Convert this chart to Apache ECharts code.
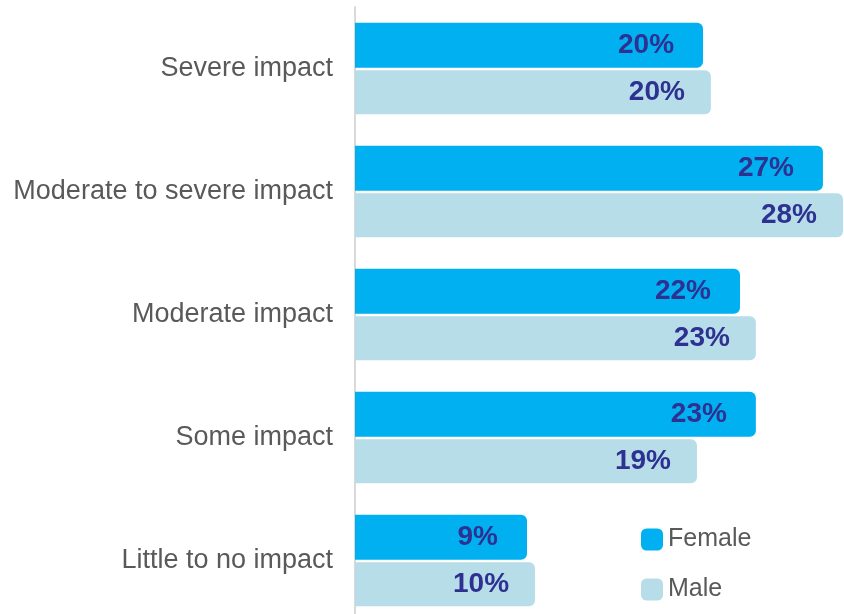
<!DOCTYPE html>
<html><head><meta charset="utf-8">
<script src="https://cdn.jsdelivr.net/npm/echarts@6/dist/echarts.min.js"></script>
<style>html,body{margin:0;padding:0;background:#fff;overflow:hidden}#c{width:844px;height:622px}</style>
</head><body><div id="c"></div>
<script>
const categories = ["Severe impact","Moderate to severe impact","Moderate impact","Some impact","Little to no impact"];
const femaleValues = [19.97, 26.85, 22.09, 23.0, 9.87];
const maleValues = [20.42, 28.0, 23.0, 19.62, 10.33];
const femaleLabels = ["20%","27%","22%","23%","9%"];
const maleLabels = ["20%","28%","23%","19%","10%"];

const chart = echarts.init(document.getElementById('c'));
const labelFont = {fontFamily:'Liberation Sans, Arial, sans-serif', fontSize:28, fontWeight:'bold', color:'#2E3192'};
chart.setOption({
  animation:false,
  grid:{left:355, right:1, top:7, bottom:0, containLabel:false},
  legend:{
    orient:'vertical', left:641, top:527, padding:0, itemWidth:22, itemHeight:22, itemGap:25,
    icon:'roundRect',
    textStyle:{fontFamily:'Liberation Sans, Arial, sans-serif', fontSize:25, color:'#595959', lineHeight:25},
    data:['Female','Male']
  },
  xAxis:{type:'value', min:0, max:28, show:false},
  yAxis:{type:'category', inverse:true, data:categories,
    axisLine:{show:true, lineStyle:{color:'#D9D9D9', width:2}},
    axisTick:{show:false},
    axisLabel:{fontFamily:'Liberation Sans, Arial, sans-serif', fontSize:27, color:'#595959', margin:22}
  },
  series:[
    {name:'Female', type:'bar', data:femaleValues, barWidth:45, barGap:'6%',
     itemStyle:{color:'#00B0F0', borderRadius:[0,6,6,0]},
     label:Object.assign({show:true, position:'insideRight', distance:29, formatter:p=>femaleLabels[p.dataIndex]}, labelFont)},
    {name:'Male', type:'bar', data:maleValues, barWidth:44,
     itemStyle:{color:'#B7DDE8', borderRadius:[0,6,6,0]},
     label:Object.assign({show:true, position:'insideRight', distance:26, formatter:p=>maleLabels[p.dataIndex]}, labelFont)}
  ]
});
</script></body></html>
